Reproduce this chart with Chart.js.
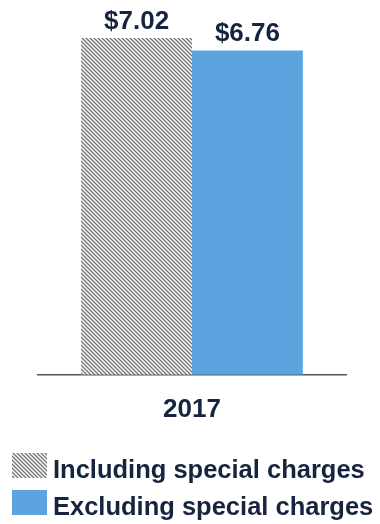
<!DOCTYPE html>
<html>
<head>
<meta charset="utf-8">
<script src="https://cdn.jsdelivr.net/npm/chart.js@4.4.1/dist/chart.umd.min.js"></script>
<style>
  html, body { margin: 0; padding: 0; background: #fff; }
  #wrap { width: 380px; height: 524px; position: relative; }
</style>
</head>
<body>
<div id="wrap"><canvas id="epsChart"></canvas></div>
<script>
const categories = ['2017'];
const seriesNames = ['Including special charges', 'Excluding special charges'];
const includingValues = [7.02];
const excludingValues = [6.76];

const textColor = '#17243f';
const fontFamily = '"Liberation Sans", Arial, sans-serif';

// diagonal hatch used for the "including" bar
const makeHatch = () => {
    const s = 4;
    const c = document.createElement('canvas');
    c.width = s;
    c.height = s;
    const g = c.getContext('2d');
    g.fillStyle = '#ffffff';
    g.fillRect(0, 0, s, s);
    g.strokeStyle = '#7c7c7c';
    g.lineWidth = 1.5;
    g.beginPath();
    g.moveTo(-1, -1); g.lineTo(s + 1, s + 1);
    g.moveTo(-1, s - 1); g.lineTo(1, s + 1);
    g.moveTo(s - 1, -1); g.lineTo(s + 1, 1);
    g.stroke();
    return g.createPattern(c, 'repeat');
};
const hatch = makeHatch();

const valueLabels = {
    id: 'valueLabels',
    afterDatasetsDraw(chart) {
        const ctx = chart.ctx;
        ctx.save();
        ctx.fillStyle = textColor;
        ctx.font = 'bold 26px ' + fontFamily;
        ctx.textAlign = 'center';
        ctx.textBaseline = 'alphabetic';
        chart.data.datasets.forEach((ds, i) => {
            chart.getDatasetMeta(i).data.forEach((bar, j) => {
                ctx.fillText('$' + ds.data[j].toFixed(2), bar.x, bar.y - 9);
            });
        });
        ctx.restore();
    }
};

const bottomLegend = {
    id: 'bottomLegend',
    afterDraw(chart) {
        const ctx = chart.ctx;
        ctx.save();
        ctx.font = 'bold 25.5px ' + fontFamily;
        ctx.textBaseline = 'alphabetic';
        ctx.textAlign = 'left';
        const rows = [453, 490];
        chart.data.datasets.forEach((ds, i) => {
            const y = rows[i];
            ctx.fillStyle = ds.backgroundColor;
            ctx.fillRect(12, y, 35, 25);
            ctx.fillStyle = textColor;
            ctx.fillText(ds.label, 53, y + 24.5);
        });
        ctx.restore();
    }
};

const ctx = document.getElementById('epsChart').getContext('2d');
new Chart(ctx, {
    type: 'bar',
    data: {
        labels: categories,
        datasets: [{
            label: seriesNames[0],
            data: includingValues,
            backgroundColor: hatch,
            borderWidth: 0
        }, {
            label: seriesNames[1],
            data: excludingValues,
            backgroundColor: '#5ca4e0',
            borderWidth: 0
        }]
    },
    options: {
        responsive: true,
        maintainAspectRatio: false,
        animation: false,
        layout: { padding: { left: 38, right: 34, top: 38, bottom: 80 } },
        datasets: {
            bar: { categoryPercentage: 0.72, barPercentage: 1 }
        },
        plugins: {
            legend: { display: false },
            tooltip: { enabled: false }
        },
        scales: {
            x: {
                grid: { display: false, drawTicks: false },
                border: { display: true, color: '#555555', width: 1.5 },
                ticks: {
                    color: textColor,
                    padding: 19,
                    font: { family: fontFamily, size: 26, weight: 'bold' }
                }
            },
            y: {
                display: false,
                min: 0,
                max: Math.max(...includingValues, ...excludingValues)
            }
        }
    },
    plugins: [valueLabels, bottomLegend]
});
</script>
</body>
</html>
